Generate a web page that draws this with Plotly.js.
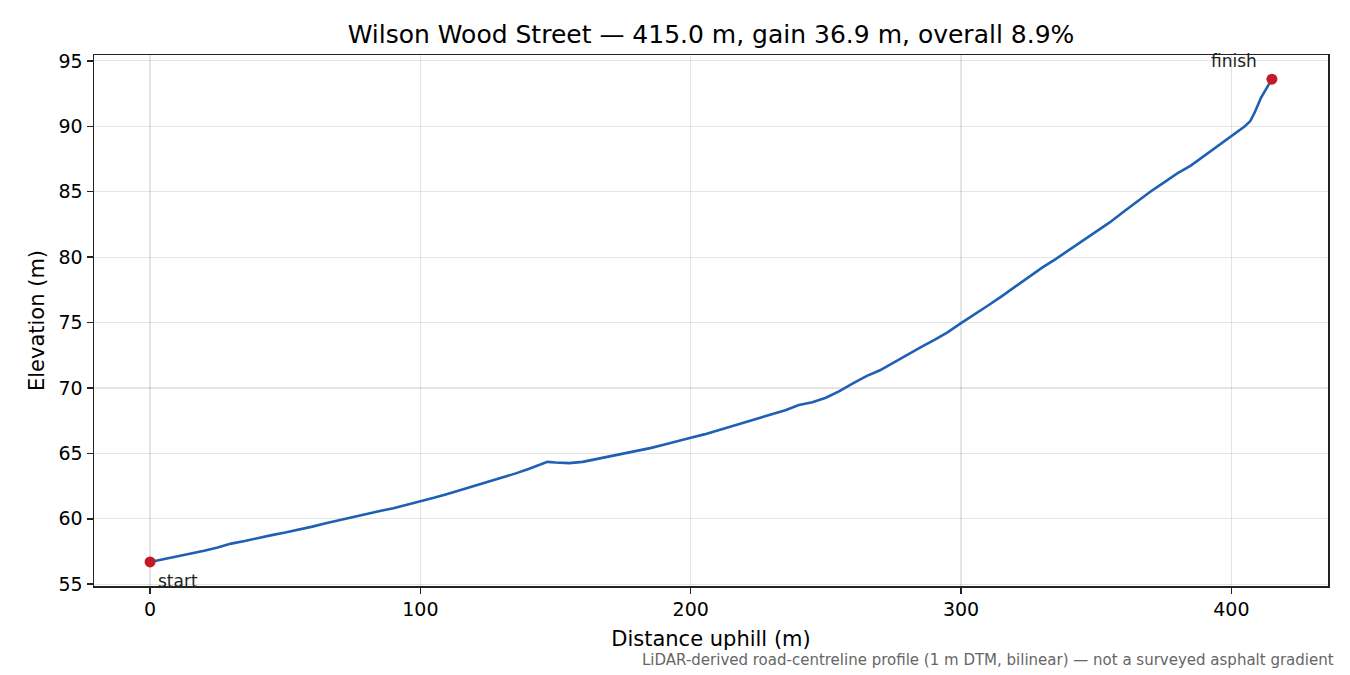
<!DOCTYPE html>
<html>
<head>
<meta charset="utf-8">
<script src="https://cdn.plot.ly/plotly-3.0.1.min.js"></script>
<style>
  html, body { margin: 0; padding: 0; background: #fff; }
  #plot { width: 1350px; height: 675px; }
</style>
</head>
<body>
<div id="plot"></div>
<script>
// profile, distance (m) and elevation (m)
const distM = [0, 5, 10, 15, 20, 25, 30, 35, 40, 45, 50, 55, 60, 65, 70, 75, 80, 85, 90, 95,
  100, 105, 110, 115, 120, 125, 130, 135, 140, 145, 147, 150, 153, 155, 160, 165, 170, 175, 180, 185,
  190, 195, 200, 205, 210, 215, 220, 225, 230, 235, 240, 245, 250, 255, 260, 265, 270, 275, 280, 285,
  290, 295, 300, 305, 310, 315, 320, 325, 330, 335, 340, 345, 350, 355, 360, 365, 370, 375, 380, 385,
  390, 395, 400, 405, 407, 408.5, 411, 413, 415];
const elevM = [56.7, 56.9, 57.15, 57.35, 57.55, 57.8, 58.1, 58.3, 58.55, 58.75, 58.95, 59.15, 59.4, 59.65, 59.9, 60.15, 60.4, 60.6, 60.8, 61.05,
  61.3, 61.6, 61.9, 62.2, 62.5, 62.8, 63.1, 63.45, 63.8, 64.2, 64.35, 64.3, 64.3, 64.25, 64.35, 64.55, 64.75, 64.95, 65.2, 65.4,
  65.65, 65.95, 66.2, 66.45, 66.75, 67.05, 67.35, 67.65, 67.95, 68.3, 68.7, 68.9, 69.25, 69.75, 70.35, 70.9, 71.35, 71.95, 72.55, 73.1,
  73.65, 74.25, 74.95, 75.6, 76.3, 77.0, 77.75, 78.5, 79.2, 79.85, 80.55, 81.25, 81.95, 82.65, 83.45, 84.25, 85.0, 85.7, 86.4, 87.0,
  87.75, 88.5, 89.3, 90.0, 90.4, 91.0, 92.2, 92.9, 93.6];

const routeName = 'Wilson Wood Street';
const totalLen = 415.0;
const gain = 36.9;
const overallPct = 8.9;
const endLabels = ['start', 'finish'];
const yTicks = [55, 60, 65, 70, 75, 80, 85, 90, 95];
const xTicks = [0, 100, 200, 300, 400];

const FONT = 'DejaVu Sans, sans-serif';
const last = distM.length - 1;

const profile = {
  x: distM,
  y: elevM,
  mode: 'lines',
  type: 'scatter',
  line: { color: '#1f5fb4', width: 2.6 },
  hoverinfo: 'skip',
};

const ends = {
  x: [distM[0], distM[last]],
  y: [elevM[0], elevM[last]],
  mode: 'markers',
  type: 'scatter',
  marker: { color: '#c21a26', size: 11 },
};

const axisBase = {
  ticks: 'outside',
  ticklen: 6,
  tickwidth: 1.5,
  tickcolor: '#222',
  showline: true,
  linecolor: '#222',
  linewidth: 1.5,
  mirror: true,
  gridcolor: 'rgba(0,0,0,0.1)',
  gridwidth: 1.2,
  zeroline: false,
  tickfont: { size: 19 },
};

const layout = {
  width: 1350,
  height: 675,
  showlegend: false,
  paper_bgcolor: '#fff',
  plot_bgcolor: '#fff',
  font: { family: FONT, color: '#000', size: 19 },
  margin: { l: 94, r: 22, t: 55, b: 89 },
  title: {
    text: `${routeName} — ${totalLen.toFixed(1)} m, gain ${gain.toFixed(1)} m, overall ${overallPct.toFixed(1)}%`,
    font: { size: 25, family: FONT },
    xref: 'paper',
    x: 0.5,
    xanchor: 'center',
    y: 0.95,
    yanchor: 'middle',
  },
  xaxis: Object.assign({}, axisBase, {
    range: [-20.75, 435.75],
    tickvals: xTicks,
    title: { text: 'Distance uphill (m)', font: { size: 21 }, standoff: 12 },
  }),
  yaxis: Object.assign({}, axisBase, {
    range: [54.86, 95.45],
    tickvals: yTicks,
    title: { text: 'Elevation (m)', font: { size: 21 }, standoff: 8 },
  }),
  annotations: [
    {
      x: distM[0], y: elevM[0], xref: 'x', yref: 'y',
      text: endLabels[0], showarrow: false,
      xanchor: 'left', yanchor: 'middle', xshift: 6, yshift: -19,
      font: { size: 17, color: '#222' },
    },
    {
      x: distM[last], y: elevM[last], xref: 'x', yref: 'y',
      text: endLabels[1], showarrow: false,
      xanchor: 'right', yanchor: 'middle', xshift: -13, yshift: 18,
      font: { size: 17, color: '#222' },
    },
    {
      x: 1.0065, y: -0.139, xref: 'paper', yref: 'paper',
      text: 'LiDAR-derived road-centreline profile (1 m DTM, bilinear) — not a surveyed asphalt gradient',
      showarrow: false, xanchor: 'right', yanchor: 'middle',
      font: { size: 15, color: '#666' },
    },
  ],
};

const config = { displayModeBar: false, staticPlot: true };

Plotly.newPlot('plot', [profile, ends], layout, config);
</script>
</body>
</html>
